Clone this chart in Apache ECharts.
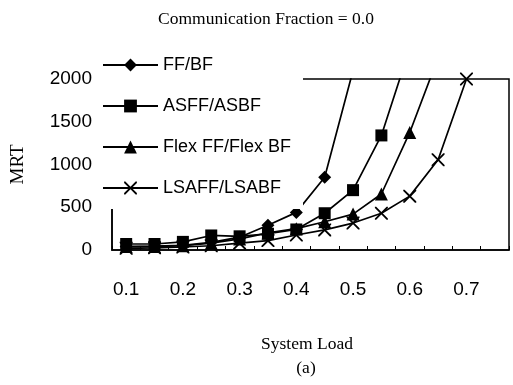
<!DOCTYPE html>
<html>
<head>
<meta charset="utf-8">
<script src="https://cdn.jsdelivr.net/npm/echarts@6/dist/echarts.min.js"></script>
<style>html,body{margin:0;padding:0;background:#fff}#c{width:513px;height:385px}</style>
</head>
<body>
<div id="c"></div>
<script>
const categories = ['0.1','0.15','0.2','0.25','0.3','0.35','0.4','0.45','0.5','0.55','0.6','0.65','0.7','0.75'];
const ffbf  = [40, 45, 55, 90, 150, 290, 440, 850, 2100];
const asff  = [70, 70, 95, 170, 160, 190, 240, 430, 700, 1340, 2360];
const flex  = [40, 40, 50, 80, 130, 200, 250, 330, 420, 655, 1375, 2250];
const lsaff = [20, 25, 35, 50, 80, 110, 175, 235, 315, 430, 630, 1055, 2000];
const seriesNames = ['FF/BF', 'ASFF/ASBF', 'Flex FF/Flex BF', 'LSAFF/LSABF'];

const crossPath = 'path://M0,0 L2,0 L10,8 L18,0 L20,0 L20,2 L12,10 L20,18 L20,20 L18,20 L10,12 L2,20 L0,20 L0,18 L8,10 L0,2 Z';
const sans = 'Liberation Sans';
const serif = 'Liberation Serif';

function mk(name, data, symbol, size) {
  return {
    name: name, type: 'line', data: data, symbol: symbol, symbolSize: size,
    showAllSymbol: true, clip: true, color: '#000',
    lineStyle: { color: '#000', width: 1.7 },
    itemStyle: { color: '#000', borderWidth: 0 },
    emphasis: { disabled: true }
  };
}

const chart = echarts.init(document.getElementById('c'), null, { renderer: 'canvas' });
chart.setOption({
  animation: false,
  backgroundColor: '#fff',
  title: [
    { text: 'Communication Fraction = 0.0', left: 261, top: 5, textAlign: 'center',
      textStyle: { fontFamily: serif, fontSize: 17.5, fontWeight: 'normal', color: '#000' } },
    { text: 'System Load', left: 302, top: 330, textAlign: 'center',
      textStyle: { fontFamily: serif, fontSize: 17.5, fontWeight: 'normal', color: '#000' } },
    { text: '(a)', left: 301, top: 354, textAlign: 'center',
      textStyle: { fontFamily: serif, fontSize: 17.5, fontWeight: 'normal', color: '#000' } }
  ],
  grid: { left: 112, right: 4, top: 79, bottom: 135, show: true, borderColor: '#000', borderWidth: 1.5, backgroundColor: 'transparent' },
  legend: {
    orient: 'vertical', left: 94, top: 46, padding: [10, 12, 12, 8],
    itemWidth: 55, itemHeight: 16, itemGap: 23,
    backgroundColor: '#fff',
    textStyle: { fontFamily: sans, fontSize: 18, color: '#000', lineHeight: 18 },
    data: seriesNames
  },
  xAxis: {
    type: 'category', data: categories, boundaryGap: true,
    axisLine: { lineStyle: { color: '#000', width: 1.5 } },
    axisTick: { show: true, inside: true, length: 4, interval: 0, lineStyle: { color: '#000' } },
    axisLabel: { interval: 1, margin: 30, fontFamily: sans, fontSize: 19, color: '#000' },
    splitLine: { show: false }
  },
  yAxis: {
    type: 'value', min: 0, max: 2000, interval: 500,
    name: 'MRT', nameLocation: 'middle', nameGap: 84, nameRotate: 90,
    nameTextStyle: { fontFamily: serif, fontSize: 19, color: '#000' },
    axisLine: { show: true, lineStyle: { color: '#000', width: 1.5 } },
    axisTick: { show: false },
    axisLabel: { margin: 20, fontFamily: sans, fontSize: 19, color: '#000', formatter: function (v) { return String(v); } },
    splitLine: { show: false }
  },
  series: [
    mk(seriesNames[0], ffbf, 'diamond', 13),
    mk(seriesNames[1], asff, 'rect', 12),
    mk(seriesNames[2], flex, 'triangle', 13),
    mk(seriesNames[3], lsaff, crossPath, 13)
  ]
});
</script>
</body>
</html>
